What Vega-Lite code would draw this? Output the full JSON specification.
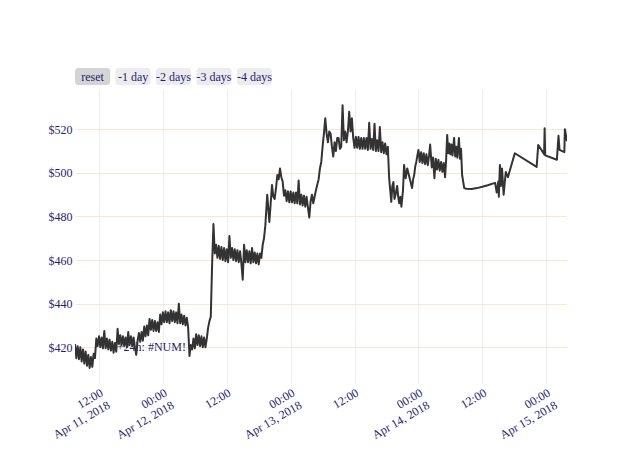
{
  "$schema": "https://vega.github.io/schema/vega-lite/v6.json",
  "background": "white",
  "padding": {"left": 43, "top": 68, "right": 0, "bottom": 0},
  "spacing": 5,
  "config": {
    "view": {"stroke": null},
    "font": "Liberation Serif",
    "text": {"font": "Liberation Serif"}
  },
  "datasets": {
    "buttons": [
      {"label": "reset", "active": "yes"},
      {"label": "-1 day", "active": "no"},
      {"label": "-2 days", "active": "no"},
      {"label": "-3 days", "active": "no"},
      {"label": "-4 days", "active": "no"}
    ],
    "price": [
      {"t": "2018-04-11T07:30:00", "p": 421.5},
      {"t": "2018-04-11T07:45:00", "p": 415},
      {"t": "2018-04-11T08:00:00", "p": 420.5},
      {"t": "2018-04-11T08:15:00", "p": 414.5},
      {"t": "2018-04-11T08:30:00", "p": 420},
      {"t": "2018-04-11T08:45:00", "p": 413.5},
      {"t": "2018-04-11T09:00:00", "p": 419},
      {"t": "2018-04-11T09:15:00", "p": 412.5},
      {"t": "2018-04-11T09:30:00", "p": 418},
      {"t": "2018-04-11T09:45:00", "p": 411.5},
      {"t": "2018-04-11T10:00:00", "p": 416.5},
      {"t": "2018-04-11T10:15:00", "p": 410.5},
      {"t": "2018-04-11T10:30:00", "p": 415.5},
      {"t": "2018-04-11T10:45:00", "p": 411},
      {"t": "2018-04-11T11:00:00", "p": 417},
      {"t": "2018-04-11T11:15:00", "p": 415},
      {"t": "2018-04-11T11:30:00", "p": 424},
      {"t": "2018-04-11T11:45:00", "p": 420.5},
      {"t": "2018-04-11T12:00:00", "p": 425},
      {"t": "2018-04-11T12:15:00", "p": 420},
      {"t": "2018-04-11T12:30:00", "p": 424.5},
      {"t": "2018-04-11T12:45:00", "p": 419.5},
      {"t": "2018-04-11T13:00:00", "p": 427.5},
      {"t": "2018-04-11T13:15:00", "p": 419.5},
      {"t": "2018-04-11T13:30:00", "p": 424},
      {"t": "2018-04-11T13:45:00", "p": 419},
      {"t": "2018-04-11T14:00:00", "p": 423.5},
      {"t": "2018-04-11T14:15:00", "p": 418.5},
      {"t": "2018-04-11T14:30:00", "p": 422.5},
      {"t": "2018-04-11T14:45:00", "p": 417.5},
      {"t": "2018-04-11T15:00:00", "p": 422},
      {"t": "2018-04-11T15:15:00", "p": 418},
      {"t": "2018-04-11T15:30:00", "p": 428.5},
      {"t": "2018-04-11T15:45:00", "p": 421.5},
      {"t": "2018-04-11T16:00:00", "p": 425.5},
      {"t": "2018-04-11T16:15:00", "p": 421},
      {"t": "2018-04-11T16:30:00", "p": 425},
      {"t": "2018-04-11T16:45:00", "p": 420.5},
      {"t": "2018-04-11T17:00:00", "p": 424.5},
      {"t": "2018-04-11T17:15:00", "p": 420},
      {"t": "2018-04-11T17:30:00", "p": 427},
      {"t": "2018-04-11T17:45:00", "p": 421},
      {"t": "2018-04-11T18:00:00", "p": 425},
      {"t": "2018-04-11T18:15:00", "p": 420.5},
      {"t": "2018-04-11T18:30:00", "p": 424.5},
      {"t": "2018-04-11T18:45:00", "p": 420},
      {"t": "2018-04-11T19:00:00", "p": 416.5},
      {"t": "2018-04-11T19:15:00", "p": 423},
      {"t": "2018-04-11T19:30:00", "p": 426.5},
      {"t": "2018-04-11T19:45:00", "p": 422.5},
      {"t": "2018-04-11T20:00:00", "p": 427},
      {"t": "2018-04-11T20:15:00", "p": 423},
      {"t": "2018-04-11T20:30:00", "p": 429.5},
      {"t": "2018-04-11T20:45:00", "p": 425},
      {"t": "2018-04-11T21:00:00", "p": 430},
      {"t": "2018-04-11T21:15:00", "p": 425.5},
      {"t": "2018-04-11T21:30:00", "p": 433},
      {"t": "2018-04-11T21:45:00", "p": 428},
      {"t": "2018-04-11T22:00:00", "p": 432.5},
      {"t": "2018-04-11T22:15:00", "p": 427.5},
      {"t": "2018-04-11T22:30:00", "p": 432},
      {"t": "2018-04-11T22:45:00", "p": 427.5},
      {"t": "2018-04-11T23:00:00", "p": 431.5},
      {"t": "2018-04-11T23:15:00", "p": 427},
      {"t": "2018-04-11T23:30:00", "p": 435},
      {"t": "2018-04-11T23:45:00", "p": 430.5},
      {"t": "2018-04-12T00:00:00", "p": 436},
      {"t": "2018-04-12T00:15:00", "p": 431.5},
      {"t": "2018-04-12T00:30:00", "p": 436.5},
      {"t": "2018-04-12T00:45:00", "p": 431.5},
      {"t": "2018-04-12T01:00:00", "p": 436},
      {"t": "2018-04-12T01:15:00", "p": 431},
      {"t": "2018-04-12T01:30:00", "p": 437},
      {"t": "2018-04-12T01:45:00", "p": 432},
      {"t": "2018-04-12T02:00:00", "p": 436.5},
      {"t": "2018-04-12T02:15:00", "p": 431.5},
      {"t": "2018-04-12T02:30:00", "p": 436},
      {"t": "2018-04-12T02:45:00", "p": 431},
      {"t": "2018-04-12T03:00:00", "p": 440},
      {"t": "2018-04-12T03:15:00", "p": 431},
      {"t": "2018-04-12T03:30:00", "p": 435},
      {"t": "2018-04-12T03:45:00", "p": 430.5},
      {"t": "2018-04-12T04:00:00", "p": 434.5},
      {"t": "2018-04-12T04:15:00", "p": 430},
      {"t": "2018-04-12T04:30:00", "p": 433.5},
      {"t": "2018-04-12T04:45:00", "p": 429},
      {"t": "2018-04-12T05:00:00", "p": 416},
      {"t": "2018-04-12T05:15:00", "p": 421},
      {"t": "2018-04-12T05:30:00", "p": 419},
      {"t": "2018-04-12T05:45:00", "p": 424},
      {"t": "2018-04-12T06:00:00", "p": 419.5},
      {"t": "2018-04-12T06:15:00", "p": 426},
      {"t": "2018-04-12T06:30:00", "p": 421},
      {"t": "2018-04-12T06:45:00", "p": 425.5},
      {"t": "2018-04-12T07:00:00", "p": 420.5},
      {"t": "2018-04-12T07:15:00", "p": 425},
      {"t": "2018-04-12T07:30:00", "p": 420},
      {"t": "2018-04-12T07:45:00", "p": 424.5},
      {"t": "2018-04-12T08:00:00", "p": 420},
      {"t": "2018-04-12T08:15:00", "p": 424},
      {"t": "2018-04-12T08:30:00", "p": 429},
      {"t": "2018-04-12T08:45:00", "p": 432},
      {"t": "2018-04-12T09:00:00", "p": 434},
      {"t": "2018-04-12T09:15:00", "p": 458},
      {"t": "2018-04-12T09:30:00", "p": 476.5},
      {"t": "2018-04-12T09:45:00", "p": 463},
      {"t": "2018-04-12T10:00:00", "p": 467},
      {"t": "2018-04-12T10:15:00", "p": 461},
      {"t": "2018-04-12T10:30:00", "p": 466.5},
      {"t": "2018-04-12T10:45:00", "p": 460.5},
      {"t": "2018-04-12T11:00:00", "p": 466},
      {"t": "2018-04-12T11:15:00", "p": 460},
      {"t": "2018-04-12T11:30:00", "p": 465.5},
      {"t": "2018-04-12T11:45:00", "p": 459.5},
      {"t": "2018-04-12T12:00:00", "p": 465},
      {"t": "2018-04-12T12:15:00", "p": 459},
      {"t": "2018-04-12T12:30:00", "p": 471},
      {"t": "2018-04-12T12:45:00", "p": 461},
      {"t": "2018-04-12T13:00:00", "p": 465.5},
      {"t": "2018-04-12T13:15:00", "p": 460},
      {"t": "2018-04-12T13:30:00", "p": 465},
      {"t": "2018-04-12T13:45:00", "p": 459.5},
      {"t": "2018-04-12T14:00:00", "p": 464.5},
      {"t": "2018-04-12T14:15:00", "p": 459},
      {"t": "2018-04-12T14:30:00", "p": 464},
      {"t": "2018-04-12T14:45:00", "p": 458.5},
      {"t": "2018-04-12T15:00:00", "p": 451},
      {"t": "2018-04-12T15:15:00", "p": 467},
      {"t": "2018-04-12T15:30:00", "p": 459},
      {"t": "2018-04-12T15:45:00", "p": 464.5},
      {"t": "2018-04-12T16:00:00", "p": 459},
      {"t": "2018-04-12T16:15:00", "p": 464},
      {"t": "2018-04-12T16:30:00", "p": 458.5},
      {"t": "2018-04-12T16:45:00", "p": 465.5},
      {"t": "2018-04-12T17:00:00", "p": 459},
      {"t": "2018-04-12T17:15:00", "p": 463.5},
      {"t": "2018-04-12T17:30:00", "p": 458.5},
      {"t": "2018-04-12T17:45:00", "p": 463},
      {"t": "2018-04-12T18:00:00", "p": 458},
      {"t": "2018-04-12T18:15:00", "p": 463},
      {"t": "2018-04-12T18:30:00", "p": 461},
      {"t": "2018-04-12T18:45:00", "p": 467},
      {"t": "2018-04-12T19:00:00", "p": 470},
      {"t": "2018-04-12T19:15:00", "p": 476},
      {"t": "2018-04-12T19:36:00", "p": 490},
      {"t": "2018-04-12T20:00:00", "p": 477.5},
      {"t": "2018-04-12T20:15:00", "p": 486},
      {"t": "2018-04-12T20:30:00", "p": 494.4},
      {"t": "2018-04-12T20:45:00", "p": 489},
      {"t": "2018-04-12T21:00:00", "p": 488},
      {"t": "2018-04-12T21:15:00", "p": 493},
      {"t": "2018-04-12T21:30:00", "p": 499},
      {"t": "2018-04-12T21:45:00", "p": 497},
      {"t": "2018-04-12T22:00:00", "p": 502},
      {"t": "2018-04-12T22:15:00", "p": 498},
      {"t": "2018-04-12T22:30:00", "p": 496},
      {"t": "2018-04-12T22:45:00", "p": 489.5},
      {"t": "2018-04-12T23:00:00", "p": 492},
      {"t": "2018-04-12T23:15:00", "p": 487},
      {"t": "2018-04-12T23:30:00", "p": 491.5},
      {"t": "2018-04-12T23:45:00", "p": 486.5},
      {"t": "2018-04-13T00:00:00", "p": 491.5},
      {"t": "2018-04-13T00:15:00", "p": 486.5},
      {"t": "2018-04-13T00:30:00", "p": 491},
      {"t": "2018-04-13T00:45:00", "p": 486},
      {"t": "2018-04-13T01:00:00", "p": 491},
      {"t": "2018-04-13T01:15:00", "p": 486},
      {"t": "2018-04-13T01:30:00", "p": 496.5},
      {"t": "2018-04-13T01:45:00", "p": 485.5},
      {"t": "2018-04-13T02:00:00", "p": 490},
      {"t": "2018-04-13T02:15:00", "p": 485},
      {"t": "2018-04-13T02:30:00", "p": 489.5},
      {"t": "2018-04-13T02:45:00", "p": 484.5},
      {"t": "2018-04-13T03:00:00", "p": 489},
      {"t": "2018-04-13T03:15:00", "p": 484},
      {"t": "2018-04-13T03:30:00", "p": 479.5},
      {"t": "2018-04-13T03:45:00", "p": 487},
      {"t": "2018-04-13T04:00:00", "p": 490},
      {"t": "2018-04-13T04:15:00", "p": 486},
      {"t": "2018-04-13T04:30:00", "p": 489},
      {"t": "2018-04-13T04:45:00", "p": 492},
      {"t": "2018-04-13T05:00:00", "p": 494.5},
      {"t": "2018-04-13T05:15:00", "p": 497},
      {"t": "2018-04-13T05:30:00", "p": 502},
      {"t": "2018-04-13T05:45:00", "p": 505},
      {"t": "2018-04-13T06:00:00", "p": 512},
      {"t": "2018-04-13T06:15:00", "p": 518},
      {"t": "2018-04-13T06:30:00", "p": 525},
      {"t": "2018-04-13T06:45:00", "p": 518},
      {"t": "2018-04-13T07:00:00", "p": 514},
      {"t": "2018-04-13T07:15:00", "p": 519},
      {"t": "2018-04-13T07:30:00", "p": 518},
      {"t": "2018-04-13T07:45:00", "p": 512},
      {"t": "2018-04-13T08:00:00", "p": 507.5},
      {"t": "2018-04-13T08:15:00", "p": 514},
      {"t": "2018-04-13T08:30:00", "p": 510},
      {"t": "2018-04-13T08:45:00", "p": 516},
      {"t": "2018-04-13T09:00:00", "p": 516},
      {"t": "2018-04-13T09:15:00", "p": 511},
      {"t": "2018-04-13T09:30:00", "p": 512},
      {"t": "2018-04-13T09:45:00", "p": 531},
      {"t": "2018-04-13T10:00:00", "p": 515},
      {"t": "2018-04-13T10:15:00", "p": 519},
      {"t": "2018-04-13T10:30:00", "p": 514},
      {"t": "2018-04-13T10:45:00", "p": 519},
      {"t": "2018-04-13T11:00:00", "p": 528},
      {"t": "2018-04-13T11:15:00", "p": 519},
      {"t": "2018-04-13T11:30:00", "p": 525},
      {"t": "2018-04-13T11:45:00", "p": 516},
      {"t": "2018-04-13T12:00:00", "p": 511.5},
      {"t": "2018-04-13T12:15:00", "p": 516.5},
      {"t": "2018-04-13T12:30:00", "p": 511.5},
      {"t": "2018-04-13T12:45:00", "p": 516.5},
      {"t": "2018-04-13T13:00:00", "p": 511},
      {"t": "2018-04-13T13:15:00", "p": 516},
      {"t": "2018-04-13T13:30:00", "p": 511},
      {"t": "2018-04-13T13:45:00", "p": 516},
      {"t": "2018-04-13T14:00:00", "p": 511},
      {"t": "2018-04-13T14:15:00", "p": 516},
      {"t": "2018-04-13T14:30:00", "p": 510.5},
      {"t": "2018-04-13T14:45:00", "p": 523},
      {"t": "2018-04-13T15:00:00", "p": 511},
      {"t": "2018-04-13T15:15:00", "p": 515.5},
      {"t": "2018-04-13T15:30:00", "p": 510.5},
      {"t": "2018-04-13T15:45:00", "p": 522.5},
      {"t": "2018-04-13T16:00:00", "p": 510},
      {"t": "2018-04-13T16:15:00", "p": 515},
      {"t": "2018-04-13T16:30:00", "p": 510},
      {"t": "2018-04-13T16:45:00", "p": 521},
      {"t": "2018-04-13T17:00:00", "p": 509.5},
      {"t": "2018-04-13T17:15:00", "p": 514},
      {"t": "2018-04-13T17:30:00", "p": 509},
      {"t": "2018-04-13T17:45:00", "p": 513.5},
      {"t": "2018-04-13T18:00:00", "p": 508.5},
      {"t": "2018-04-13T18:15:00", "p": 512},
      {"t": "2018-04-13T18:30:00", "p": 497.5},
      {"t": "2018-04-13T18:54:00", "p": 486.7},
      {"t": "2018-04-13T19:06:00", "p": 494},
      {"t": "2018-04-13T19:18:00", "p": 495.8},
      {"t": "2018-04-13T19:30:00", "p": 488},
      {"t": "2018-04-13T19:42:00", "p": 490},
      {"t": "2018-04-13T20:00:00", "p": 494},
      {"t": "2018-04-13T20:12:00", "p": 489},
      {"t": "2018-04-13T20:24:00", "p": 486},
      {"t": "2018-04-13T20:36:00", "p": 489},
      {"t": "2018-04-13T20:48:00", "p": 484.5},
      {"t": "2018-04-13T21:06:00", "p": 492},
      {"t": "2018-04-13T21:18:00", "p": 503.6},
      {"t": "2018-04-13T21:36:00", "p": 497.5},
      {"t": "2018-04-13T21:54:00", "p": 502},
      {"t": "2018-04-13T22:12:00", "p": 499},
      {"t": "2018-04-13T22:30:00", "p": 496},
      {"t": "2018-04-13T22:48:00", "p": 493},
      {"t": "2018-04-13T23:00:00", "p": 497},
      {"t": "2018-04-13T23:12:00", "p": 499},
      {"t": "2018-04-13T23:24:00", "p": 503},
      {"t": "2018-04-13T23:36:00", "p": 505},
      {"t": "2018-04-13T23:48:00", "p": 508},
      {"t": "2018-04-14T00:00:00", "p": 510.5},
      {"t": "2018-04-14T00:15:00", "p": 505},
      {"t": "2018-04-14T00:30:00", "p": 509.5},
      {"t": "2018-04-14T00:45:00", "p": 504.5},
      {"t": "2018-04-14T01:00:00", "p": 509},
      {"t": "2018-04-14T01:15:00", "p": 504},
      {"t": "2018-04-14T01:30:00", "p": 508.5},
      {"t": "2018-04-14T01:45:00", "p": 503.5},
      {"t": "2018-04-14T02:00:00", "p": 508},
      {"t": "2018-04-14T02:12:00", "p": 513},
      {"t": "2018-04-14T02:30:00", "p": 502.5},
      {"t": "2018-04-14T02:45:00", "p": 507},
      {"t": "2018-04-14T03:00:00", "p": 497.5},
      {"t": "2018-04-14T03:15:00", "p": 506.5},
      {"t": "2018-04-14T03:30:00", "p": 501.5},
      {"t": "2018-04-14T03:45:00", "p": 506},
      {"t": "2018-04-14T04:00:00", "p": 501},
      {"t": "2018-04-14T04:15:00", "p": 505},
      {"t": "2018-04-14T04:30:00", "p": 500.5},
      {"t": "2018-04-14T04:45:00", "p": 504.5},
      {"t": "2018-04-14T05:00:00", "p": 498},
      {"t": "2018-04-14T05:12:00", "p": 506},
      {"t": "2018-04-14T05:24:00", "p": 517.4},
      {"t": "2018-04-14T05:36:00", "p": 509},
      {"t": "2018-04-14T05:48:00", "p": 513.5},
      {"t": "2018-04-14T06:00:00", "p": 508.5},
      {"t": "2018-04-14T06:12:00", "p": 513},
      {"t": "2018-04-14T06:24:00", "p": 508},
      {"t": "2018-04-14T06:42:00", "p": 516},
      {"t": "2018-04-14T06:54:00", "p": 507.5},
      {"t": "2018-04-14T07:06:00", "p": 512},
      {"t": "2018-04-14T07:18:00", "p": 507},
      {"t": "2018-04-14T07:36:00", "p": 516},
      {"t": "2018-04-14T07:48:00", "p": 506.5},
      {"t": "2018-04-14T08:00:00", "p": 511},
      {"t": "2018-04-14T08:12:00", "p": 499},
      {"t": "2018-04-14T08:36:00", "p": 493},
      {"t": "2018-04-14T09:00:00", "p": 492.7},
      {"t": "2018-04-14T10:00:00", "p": 492.6},
      {"t": "2018-04-14T11:00:00", "p": 493},
      {"t": "2018-04-14T12:00:00", "p": 493.6},
      {"t": "2018-04-14T13:00:00", "p": 494.3},
      {"t": "2018-04-14T14:24:00", "p": 495.4},
      {"t": "2018-04-14T14:42:00", "p": 491},
      {"t": "2018-04-14T15:00:00", "p": 496},
      {"t": "2018-04-14T15:06:00", "p": 489},
      {"t": "2018-04-14T15:18:00", "p": 503.6},
      {"t": "2018-04-14T15:30:00", "p": 494},
      {"t": "2018-04-14T15:42:00", "p": 502},
      {"t": "2018-04-14T16:00:00", "p": 490},
      {"t": "2018-04-14T16:24:00", "p": 500.4},
      {"t": "2018-04-14T16:48:00", "p": 498},
      {"t": "2018-04-14T18:06:00", "p": 509},
      {"t": "2018-04-14T22:12:00", "p": 502.7},
      {"t": "2018-04-14T22:30:00", "p": 512.8},
      {"t": "2018-04-14T23:36:00", "p": 508.6},
      {"t": "2018-04-14T23:42:00", "p": 520.5},
      {"t": "2018-04-14T23:48:00", "p": 508},
      {"t": "2018-04-15T02:00:00", "p": 506},
      {"t": "2018-04-15T02:18:00", "p": 517},
      {"t": "2018-04-15T02:30:00", "p": 510.5},
      {"t": "2018-04-15T03:24:00", "p": 509.5},
      {"t": "2018-04-15T03:30:00", "p": 520},
      {"t": "2018-04-15T03:54:00", "p": 514.5}
    ],
    "notes": [
      {"t": "2018-04-11T21:50:00", "p": 420, "txt": "+24h: #NUM!"}
    ]
  },
  "vconcat": [
    {
      "width": 197,
      "height": 17,
      "data": {"name": "buttons"},
      "layer": [
        {
          "mark": {"type": "bar", "cornerRadius": 3},
          "encoding": {
            "x": {"field": "label", "type": "nominal", "sort": null, "axis": null,
                  "scale": {"paddingInner": 0.13, "paddingOuter": 0}},
            "color": {"field": "active", "type": "nominal", "legend": null,
                      "scale": {"domain": ["yes", "no"], "range": ["#d4d4d4", "#ececec"]}}
          }
        },
        {
          "mark": {"type": "text", "font": "Liberation Serif", "fontSize": 12, "color": "#1e1e78", "baseline": "middle", "align": "center"},
          "encoding": {
            "x": {"field": "label", "type": "nominal", "sort": null, "axis": null},
            "text": {"field": "label"}
          }
        }
      ]
    },
    {
      "width": 492,
      "height": 293,
      "encoding": {
        "x": {
          "field": "t", "type": "temporal",
          "scale": {"nice": false},
          "axis": {
            "title": null,
            "values": [
              {"year": 2018, "month": 4, "date": 11, "hours": 12},
              {"year": 2018, "month": 4, "date": 12, "hours": 0},
              {"year": 2018, "month": 4, "date": 12, "hours": 12},
              {"year": 2018, "month": 4, "date": 13, "hours": 0},
              {"year": 2018, "month": 4, "date": 13, "hours": 12},
              {"year": 2018, "month": 4, "date": 14, "hours": 0},
              {"year": 2018, "month": 4, "date": 14, "hours": 12},
              {"year": 2018, "month": 4, "date": 15, "hours": 0}
            ],
            "labelExpr": "(datum.index == 0 || hours(datum.value) == 0) ? [timeFormat(datum.value, '%H:%M'), timeFormat(datum.value, '%b %-d, %Y')] : timeFormat(datum.value, '%H:%M')",
            "labelAngle": -30,
            "labelAlign": "right",
            "labelBaseline": "top",
            "labelPadding": 4,
            "labelFont": "Liberation Serif",
            "labelFontSize": 12,
            "labelColor": "#1e1e78",
            "labelOverlap": false,
            "labelFlush": false,
            "domain": false,
            "ticks": false,
            "grid": true,
            "gridColor": "#eeeeee",
            "gridWidth": 1
          }
        },
        "y": {
          "field": "p", "type": "quantitative",
          "scale": {"domain": [403.6, 538], "nice": false, "zero": false},
          "axis": {
            "title": null,
            "values": [420, 440, 460, 480, 500, 520],
            "format": "$.0f",
            "labelFont": "Liberation Serif",
            "labelFontSize": 12,
            "labelColor": "#1e1e78",
            "labelPadding": 3,
            "minExtent": 30,
            "maxExtent": 30,
            "domain": false,
            "ticks": false,
            "grid": true,
            "gridColor": "#fde6cf",
            "gridWidth": 1
          }
        }
      },
      "layer": [
        {
          "data": {"name": "notes"},
          "mark": {"type": "text", "font": "Liberation Serif", "fontSize": 12, "color": "#1e1e78", "align": "center", "baseline": "middle"},
          "encoding": {"text": {"field": "txt"}}
        },
        {
          "data": {"name": "price"},
          "mark": {"type": "line", "color": "#333333", "strokeWidth": 2, "strokeJoin": "round", "clip": true},
          "encoding": {}
        }
      ]
    }
  ]
}
